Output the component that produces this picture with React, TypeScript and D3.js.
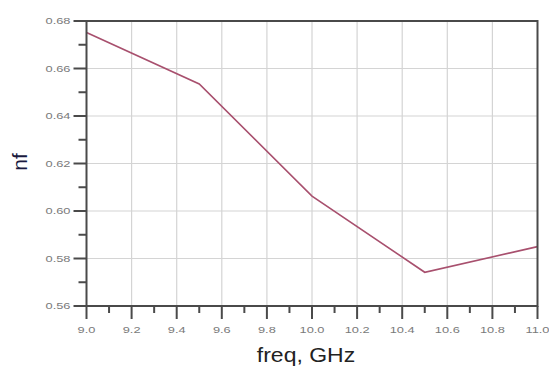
import React from "react";
import * as d3 from "d3";

const freqs = [9.0, 9.5, 10.0, 10.5, 11.0];
const nfValues = [0.6752, 0.6535, 0.6063, 0.5742, 0.585];
const xMajorTicks = [9.0, 9.2, 9.4, 9.6, 9.8, 10.0, 10.2, 10.4, 10.6, 10.8, 11.0];
const xMinorTicks = [9.1, 9.3, 9.5, 9.7, 9.9, 10.1, 10.3, 10.5, 10.7, 10.9];
const yMajorTicks = [0.56, 0.58, 0.6, 0.62, 0.64, 0.66, 0.68];
const yMinorTicks = [0.57, 0.59, 0.61, 0.63, 0.65, 0.67];

export default function App() {
  const W = 549, H = 368;
  const L = 86.5, R = 537.5, T = 21, B = 306;
  const x = d3.scaleLinear().domain([9, 11]).range([L, R]);
  const y = d3.scaleLinear().domain([0.56, 0.68]).range([B, T]);
  const line = d3.line<number>().x((_, i) => x(freqs[i])).y((d) => y(d));
  const tickFont = "Arial, 'Liberation Sans', sans-serif";
  const sx = 1.35;
  return (
    <svg width={W} height={H} style={{ position: "absolute", left: 0, top: 0, background: "#fff" }}>
      {/* grid */}
      {xMajorTicks.slice(1, -1).map((t) => (
        <line key={"gx" + t} x1={x(t)} x2={x(t)} y1={T} y2={B} stroke="#d4d4d4" strokeWidth={1.2} />
      ))}
      {yMajorTicks.slice(1, -1).map((t) => (
        <line key={"gy" + t} x1={L} x2={R} y1={y(t)} y2={y(t)} stroke="#d4d4d4" strokeWidth={1.2} />
      ))}
      {/* data line */}
      <path d={line(nfValues) || ""} fill="none" stroke="#a8506e" strokeWidth={1.6} />
      {/* frame */}
      <rect x={L} y={T} width={R - L} height={B - T} fill="none" stroke="#4a4a4a" strokeWidth={2} />
      {/* y ticks */}
      {yMajorTicks.map((t) => (
        <g key={"yt" + t}>
          <line x1={L - 13} x2={L} y1={y(t)} y2={y(t)} stroke="#4a4a4a" strokeWidth={2} />
          <text
            transform={`translate(${L - 16},${y(t)}) scale(${sx},1)`}
            dy="0.35em"
            textAnchor="end"
            fontSize={9.5}
            fill="#7a7a7a"
            fontFamily={tickFont}
          >
            {t.toFixed(2)}
          </text>
        </g>
      ))}
      {yMinorTicks.map((t) => (
        <line key={"ym" + t} x1={L - 8} x2={L} y1={y(t)} y2={y(t)} stroke="#4a4a4a" strokeWidth={2} />
      ))}
      {/* x ticks */}
      {xMajorTicks.map((t) => (
        <g key={"xt" + t}>
          <line x1={x(t)} x2={x(t)} y1={B} y2={B + 13} stroke="#4a4a4a" strokeWidth={2} />
          <text
            transform={`translate(${x(t)},${B + 24}) scale(${sx},1)`}
            dy="0.35em"
            textAnchor="middle"
            fontSize={9.5}
            fill="#7a7a7a"
            fontFamily={tickFont}
          >
            {t.toFixed(1)}
          </text>
        </g>
      ))}
      {xMinorTicks.map((t) => (
        <line key={"xm" + t} x1={x(t)} x2={x(t)} y1={B} y2={B + 7} stroke="#4a4a4a" strokeWidth={2} />
      ))}
      {/* axis titles */}
      <text
        transform={`translate(306,362) scale(1.15,1)`}
        textAnchor="middle"
        fontSize={20}
        fill="#222"
        fontFamily={tickFont}
      >
        freq, GHz
      </text>
      <text
        transform={`translate(27,162) rotate(-90)`}
        textAnchor="middle"
        fontSize={21}
        fill="#1a1a40"
        fontFamily={tickFont}
      >
        nf
      </text>
    </svg>
  );
}
